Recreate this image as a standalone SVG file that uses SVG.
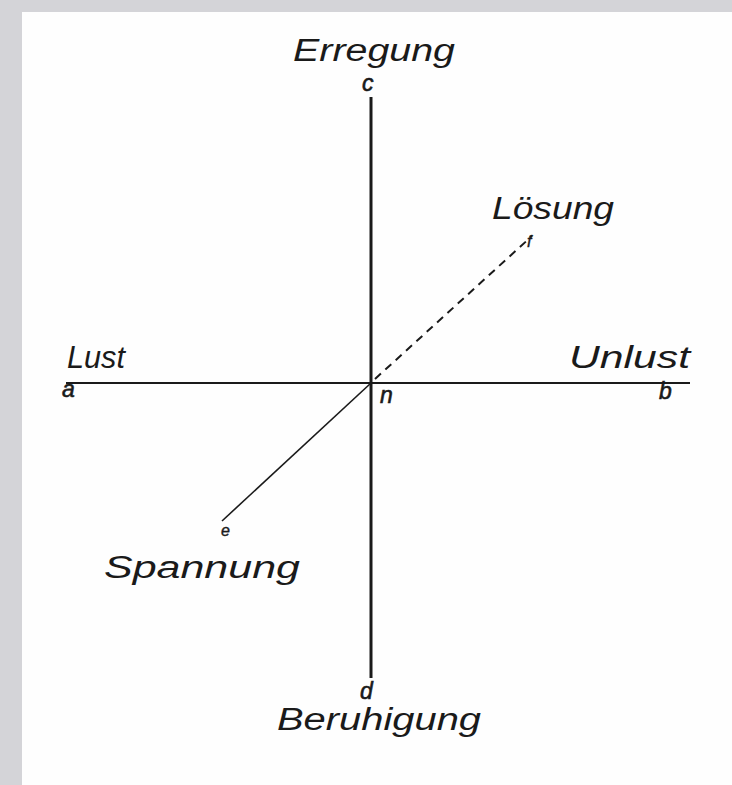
<svg xmlns="http://www.w3.org/2000/svg" width="732" height="785" viewBox="0 0 732 785">
<style>
.lbl{font-family:"Liberation Sans","DejaVu Sans",sans-serif;font-style:italic;fill:#1a1a1a}
.big{font-size:31px}
.sm{font-size:23px;stroke:#1a1a1a;stroke-width:0.6}
.tiny{font-size:16px;stroke:#1a1a1a;stroke-width:0.4}
.ax{stroke:#1a1a1a;fill:none}
</style>
<rect x="0" y="0" width="732" height="785" fill="#d4d4d8"/>
<rect x="22" y="12" width="710" height="773" fill="#fefefe"/>
<g id="connectors">
<line class="ax" x1="371" y1="97" x2="371" y2="678" stroke-width="3"/>
<line class="ax" x1="66" y1="383" x2="690" y2="383" stroke-width="2.2"/>
<line class="ax" x1="375" y1="379" x2="532" y2="236" stroke-width="2" stroke-dasharray="8,6"/>
<line class="ax" x1="371" y1="383" x2="222" y2="521" stroke-width="1.6"/>
</g>
<g id="node-c"><text class="lbl big" x="293" y="61" textLength="162" lengthAdjust="spacingAndGlyphs">Erregung</text><text class="lbl sm" x="362" y="91">c</text></g>
<g id="node-f"><text class="lbl big" x="492" y="219" textLength="122" lengthAdjust="spacingAndGlyphs">Lösung</text><text class="lbl tiny" x="527" y="247">f</text></g>
<g id="node-a"><text class="lbl big" x="67" y="368" textLength="58" lengthAdjust="spacingAndGlyphs">Lust</text><text class="lbl sm" x="62" y="397">a</text></g>
<g id="node-b"><text class="lbl big" x="569" y="368" textLength="121" lengthAdjust="spacingAndGlyphs">Unlust</text><text class="lbl sm" x="659" y="399">b</text></g>
<g id="node-n"><text class="lbl sm" x="380" y="403">n</text></g>
<g id="node-e"><text class="lbl tiny" x="221" y="536">e</text><text class="lbl big" x="104" y="578" textLength="196" lengthAdjust="spacingAndGlyphs">Spannung</text></g>
<g id="node-d"><text class="lbl sm" x="360" y="699">d</text><text class="lbl big" x="277" y="730" textLength="204" lengthAdjust="spacingAndGlyphs">Beruhigung</text></g>
</svg>
